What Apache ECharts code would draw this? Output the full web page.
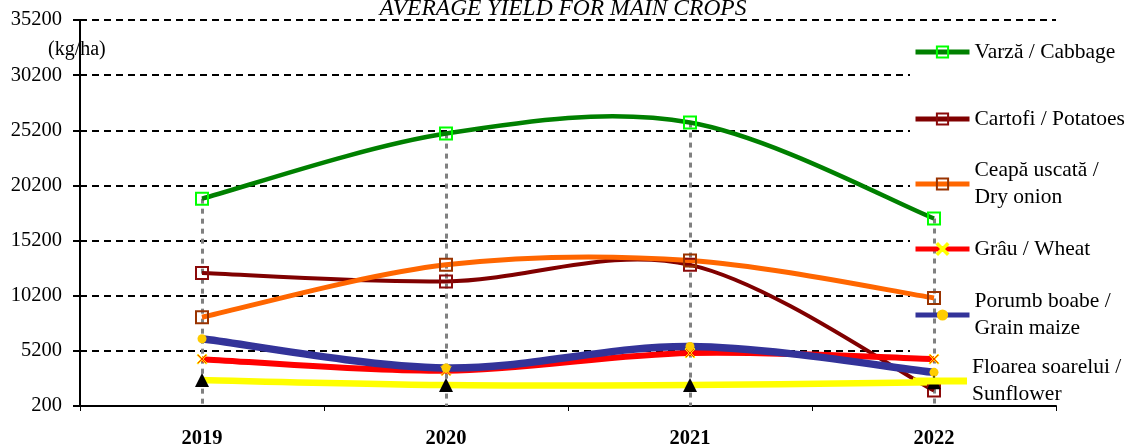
<!DOCTYPE html>
<html>
<head>
<meta charset="utf-8">
<script src="https://cdn.jsdelivr.net/npm/echarts@6/dist/echarts.min.js"></script>
<style>
html,body{margin:0;padding:0;background:#fff;}
#c{width:1126px;height:447px;}
</style>
</head>
<body>
<div id="c"></div>
<script>
var years = ['2019', '2020', '2021', '2022'];
var yTicks = { min: 200, max: 35200, step: 5000 };
var cabbage = [19000, 24900, 25900, 17200];
var potatoes = [12250, 11500, 13000, 1600];
var onion = [8250, 13000, 13400, 10000];
var wheat = [4450, 3400, 5000, 4450];
var maize = [6300, 3650, 5600, 3250];
var sunflower = [2550, 2100, 2100, 2350];
var names = ['Varză / Cabbage', 'Cartofi / Potatoes', 'Ceapă uscată /\nDry onion', 'Grâu / Wheat', 'Porumb boabe /\nGrain maize', 'Floarea soarelui /\nSunflower'];

var FONT = "'Liberation Serif', 'Times New Roman', serif";
var chart = echarts.init(document.getElementById('c'));

var dropData = years.map(function (y, i) {
  return [{ coord: [i, cabbage[i]] }, { coord: [i, yTicks.min] }];
});

var xPath = 'path://M0,1L1,0L5,4L9,0L10,1L6,5L10,9L9,10L5,6L1,10L0,9L4,5Z';

// Excel-style smoothed curve (Catmull-Rom through the axis-mapped points)
function curveSeries(key, arr, color, width, z) {
  return {
    type: 'custom', name: '_curve_' + key, coordinateSystem: 'cartesian2d',
    silent: true, z: z, data: [[0, arr[0]]],
    renderItem: function (params, api) {
      var p = arr.map(function (v, i) { return api.coord([i, v]); });
      var n = p.length, d = 'M' + p[0][0] + ',' + p[0][1];
      for (var i = 0; i < n - 1; i++) {
        var a = p[Math.max(i - 1, 0)], b = p[i], c = p[i + 1], e = p[Math.min(i + 2, n - 1)];
        var c1x = b[0] + (c[0] - a[0]) / 6, c1y = b[1] + (c[1] - a[1]) / 6;
        var c2x = c[0] - (e[0] - b[0]) / 6, c2y = c[1] - (e[1] - b[1]) / 6;
        d += 'C' + c1x + ',' + c1y + ',' + c2x + ',' + c2y + ',' + c[0] + ',' + c[1];
      }
      return { type: 'path', shape: { pathData: d }, style: { stroke: color, lineWidth: width, fill: 'none' } };
    }
  };
}

function mk(name, data, color, symbol, size, itemStyle, z) {
  return {
    name: name, type: 'line', data: data, z: z,
    color: color,
    symbol: symbol, symbolSize: size,
    lineStyle: { color: color, width: 4, opacity: 0 },
    itemStyle: itemStyle,
    emphasis: { disabled: true }
  };
}

var series = [
  curveSeries('cabbage', cabbage, '#008000', 4.5, 2),
  curveSeries('potatoes', potatoes, '#800000', 4, 2),
  curveSeries('onion', onion, '#ff6600', 5, 2),
  curveSeries('wheat', wheat, '#ff0000', 6, 2),
  curveSeries('maize', maize, '#333399', 7.5, 2),
  curveSeries('sunflower', sunflower, '#ffff00', 6.5, 2),
  mk(names[0], cabbage, '#008000', 'rect', 12, { color: 'rgba(0,0,0,0)', borderColor: '#00ff00', borderWidth: 2 }, 3),
  mk(names[1], potatoes, '#800000', 'rect', 12, { color: 'rgba(0,0,0,0)', borderColor: '#8b0a0a', borderWidth: 2 }, 3),
  mk(names[2], onion, '#ff6600', 'rect', 12, { color: 'rgba(0,0,0,0)', borderColor: '#993300', borderWidth: 2 }, 3),
  mk(names[3], wheat, '#ff0000', xPath, 10, { color: '#ff0000', borderColor: '#ffff00', borderWidth: 1 }, 3),
  mk(names[4], maize, '#333399', 'circle', 9, { color: '#ffcc00', borderColor: '#ffcc00', borderWidth: 0 }, 3),
  mk(names[5], sunflower, '#ffff00', 'triangle', 14, { color: '#000000' }, 3)
];
series[6].markLine = {
  silent: true, symbol: 'none', z: 1,
  label: { show: false },
  lineStyle: { color: '#808080', type: [5, 5], width: 3, opacity: 1 },
  data: dropData
};

var rowY = [52, 119, 184, 249, 315, 381];
var legends = names.map(function (n, i) {
  var two = n.indexOf('\n') >= 0;
  var d = { name: n };
  if (i === 5) { d.icon = 'path://M0,0H53V7H0Z'; d.itemStyle = { color: '#ffff00' }; }
  return {
    left: 913, top: two ? rowY[i] - 40.5 : rowY[i] - 13.5,
    padding: 0, itemWidth: 54, itemHeight: 14, itemGap: 0,
    selectedMode: false,
    lineStyle: { width: 5, opacity: 1 },
    textStyle: { fontFamily: FONT, fontSize: 21.5, color: '#000', lineHeight: 27, padding: two ? [27, 0, 0, 0] : 0 },
    data: [d]
  };
});

chart.setOption({
  animation: false,
  backgroundColor: '#fff',
  title: {
    text: 'AVERAGE YIELD FOR MAIN CROPS', left: 'center', top: -8,
    textStyle: { fontFamily: FONT, fontSize: 23.5, fontStyle: 'italic', fontWeight: 'normal', color: '#000' }
  },
  legend: legends,
  grid: { left: 80, right: 70, top: 20, bottom: 41, outerBoundsMode: 'none', containLabel: false },
  graphic: [
    { type: 'rect', z: 1, silent: true, shape: { x: 910, y: 26, width: 216, height: 374 }, style: { fill: '#fff' } },
    { type: 'text', z: 3, left: 48, top: 40, style: { text: '(kg/ha)', font: '20px ' + FONT, fill: '#000' } }
  ],
  xAxis: {
    type: 'category', data: years, boundaryGap: true,
    axisLine: { lineStyle: { color: '#000', width: 2 } },
    axisTick: { show: true, length: 5, lineStyle: { color: '#000', width: 1 } },
    axisLabel: { fontFamily: FONT, fontSize: 20.5, fontWeight: 'bold', color: '#000', margin: 22 }
  },
  yAxis: {
    type: 'value', min: yTicks.min, max: yTicks.max, interval: yTicks.step,
    axisLine: { show: true, lineStyle: { color: '#000', width: 2 } },
    axisTick: { show: true, length: 7, lineStyle: { color: '#000', width: 2 } },
    axisLabel: { fontFamily: FONT, fontSize: 20.5, color: '#000', margin: 18, formatter: function (v) { return String(v); } },
    splitLine: { show: true, lineStyle: { color: '#000', width: 2, type: [7, 5] } }
  },
  series: series
});
</script>
</body>
</html>
